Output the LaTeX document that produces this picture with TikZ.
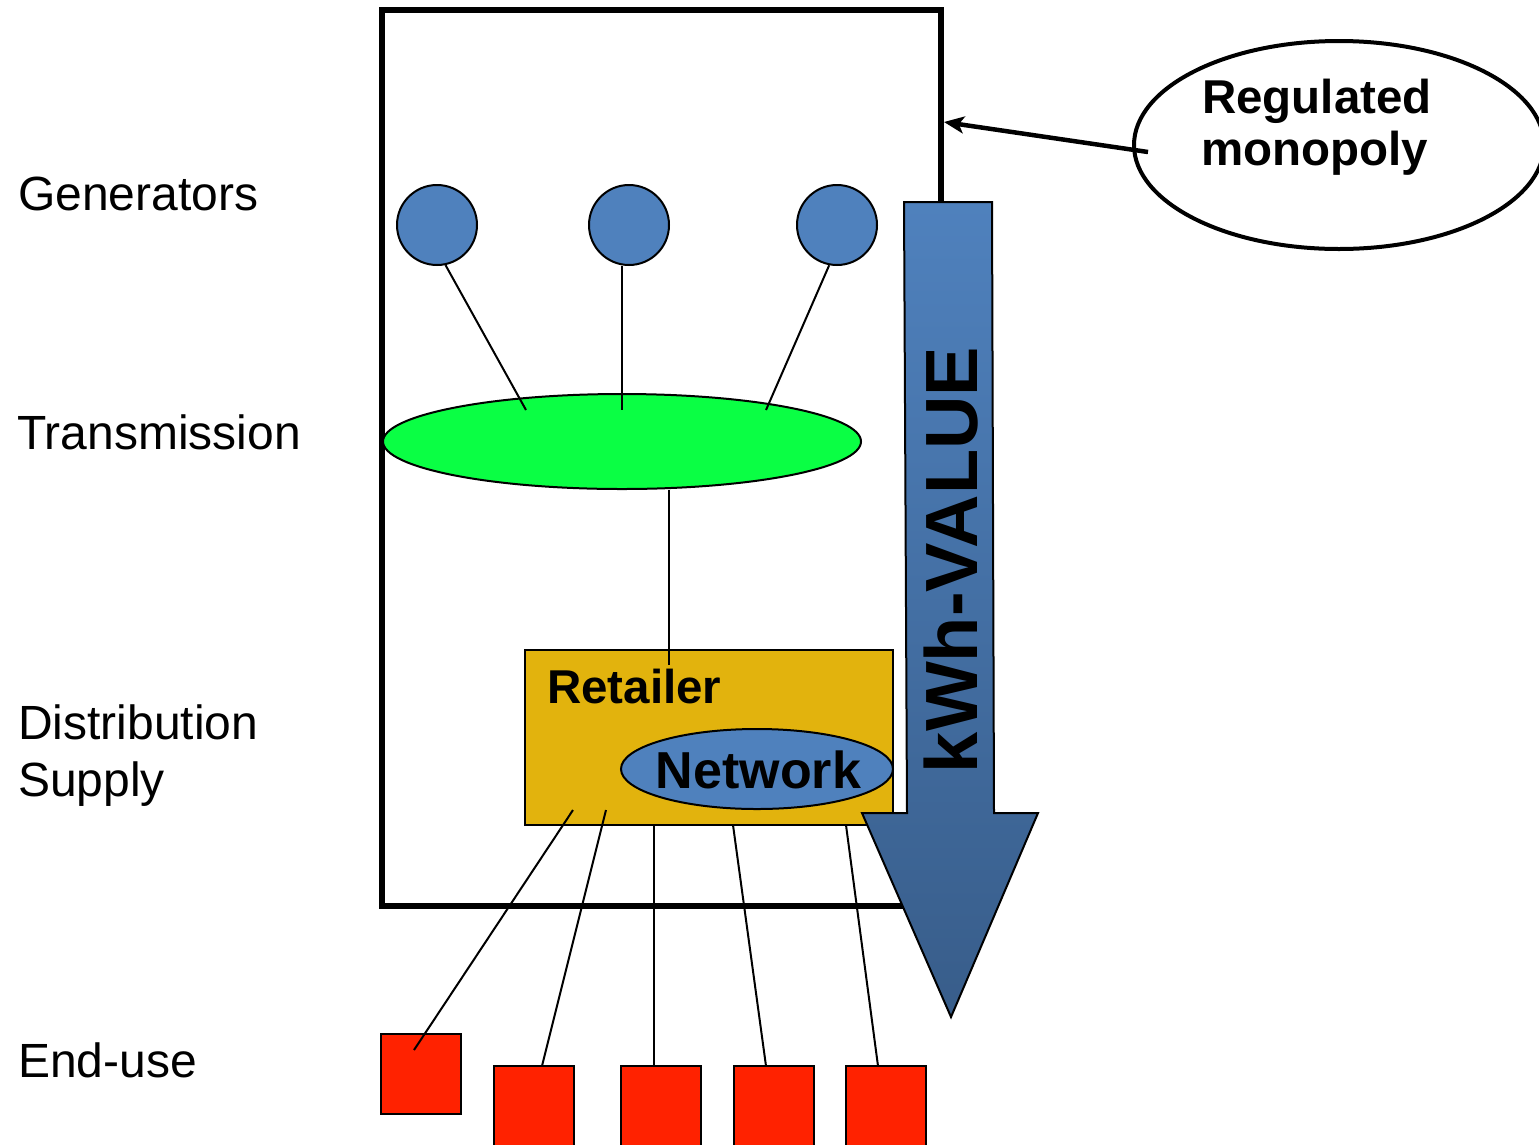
\documentclass[tikz,border=0pt]{standalone}
\usepackage{fontspec}
\setmainfont{Liberation Sans}
\usetikzlibrary{shapes.geometric,arrows.meta}
\definecolor{genblue}{HTML}{4F81BD}
\definecolor{darkblue}{HTML}{385D8A}
\definecolor{trgreen}{HTML}{0AFF44}
\definecolor{retgold}{HTML}{E2B30D}
\definecolor{enduse}{HTML}{FF2200}
\tikzset{
  lbl/.style={anchor=base west, inner sep=0pt, font=\fontsize{48}{56}\selectfont},
  gen/.style={circle, draw, line width=2pt, fill=genblue, minimum size=80pt, inner sep=0pt},
  wire/.style={draw, line width=2pt},
  enduse box/.style={draw, line width=2pt, fill=enduse, minimum size=80pt, inner sep=0pt},
  boldtxt/.style={anchor=base west, inner sep=0pt, font=\fontsize{47.5}{56}\selectfont\bfseries},
}
\begin{document}
\begin{tikzpicture}[x=1pt,y=-1pt]
\useasboundingbox (0,0) rectangle (1539,1144);
% left labels
\node[lbl] (lgen) at (18,210) {Generators};
\node[lbl] (ltr) at (17,449) {Transmission};
\node[lbl] (ldist) at (18,739) {Distribution};
\node[lbl] (lsup) at (18,796) {Supply};
\node[lbl] (lend) at (18,1077) {End-use};
% frame
\node[draw, line width=6.5pt, minimum width=559pt, minimum height=896pt, inner sep=0pt] (frame) at (661.5,458) {};
% regulated monopoly
\node[ellipse, draw, line width=4pt, minimum width=410pt, minimum height=208pt, inner sep=0pt] (mono) at (1339,145) {};
\node[boldtxt] (treg) at (1202,113) {Regulated};
\node[boldtxt] (tmon) at (1201,165) {monopoly};
\coordinate (mstart) at (1148,152);
\coordinate (mtip) at (944,122);
\draw[line width=4.5pt, -{Stealth[length=20pt,width=17pt,inset=5pt]}] (mstart) -- (mtip);
% transmission
\node[ellipse, draw, line width=2pt, fill=trgreen, minimum width=478pt, minimum height=95pt, inner sep=0pt] (tr) at (622,441.5) {};
% generators
\node[gen] (g1) at (437,225) {};
\node[gen] (g2) at (629,225) {};
\node[gen] (g3) at (837,225) {};
\coordinate (t1) at (526,410);
\coordinate (t2) at (622,410);
\coordinate (t3) at (766,410);
\draw[wire] (g1.-78) -- (t1);
\draw[wire] (g2.south -| t2) -- (t2);
\draw[wire] (g3.-101) -- (t3);
% retailer
\node[draw, line width=2pt, fill=retgold, minimum width=368pt, minimum height=175pt, inner sep=0pt] (ret) at (709,737.5) {};
\coordinate (r0) at (669,665);
\draw[wire] (r0 |- tr.south) -- (r0);
\node[boldtxt] (tret) at (547,703) {Retailer};
\node[ellipse, draw, line width=2pt, fill=genblue, minimum width=272pt, minimum height=80pt, inner sep=0pt] (net) at (757,769) {};
\node[anchor=base, inner sep=0pt, font=\fontsize{52}{60}\selectfont\bfseries] (tnet) at (758.5,788) {Network};
% end-use boxes
\node[enduse box] (e1) at (421,1073.5) {};
\node[enduse box] (e2) at (533.5,1106) {};
\node[enduse box] (e3) at (661,1106) {};
\node[enduse box] (e4) at (774,1106) {};
\node[enduse box] (e5) at (886,1106) {};
\coordinate (s1) at (573,810);
\coordinate (s2) at (606,810);
\coordinate (s3) at (653.5,825);
\coordinate (s4) at (733,825);
\coordinate (s5) at (846,825);
\coordinate (u1) at (414,1050);
\coordinate (u2) at (542,1066);
\coordinate (u3) at (653.5,1066);
\coordinate (u4) at (766,1066);
\coordinate (u5) at (878,1066);
\draw[wire] (s1) -- (u1);
\draw[wire] (s2) -- (u2);
\draw[wire] (s3) -- (u3);
\draw[wire] (s4) -- (u4);
\draw[wire] (s5) -- (u5);
% big arrow
\path[draw, line width=2pt, top color=genblue, bottom color=darkblue, line join=miter]
  (904,202) -- (992,202) -- (994,813) -- (1038,813) -- (951,1017) -- (862,813) -- (907,813) -- cycle;
\node[rotate=90, inner sep=0pt, font=\fontsize{74}{80}\selectfont\bfseries] (kwh) at (951,560) {kWh-VALUE};
\end{tikzpicture}
\end{document}
